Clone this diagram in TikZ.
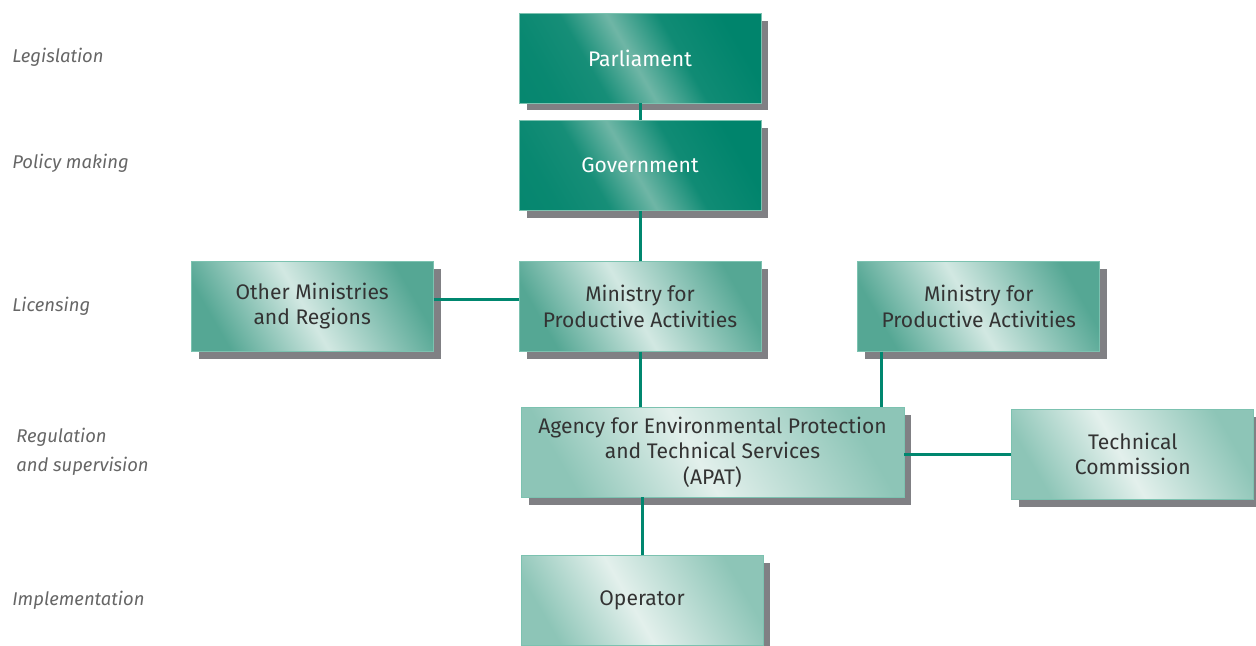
\documentclass[tikz,border=0pt]{standalone}
\usepackage{fontspec}
\setmainfont{Fira Sans}
\usetikzlibrary{positioning, shadows}

\definecolor{darkteal}{HTML}{00846C}
\definecolor{darklight}{HTML}{6FB6A6}
\definecolor{midteal}{HTML}{55A794}
\definecolor{midlight}{HTML}{D2E8E2}
\definecolor{paleteal}{HTML}{8DC5B7}
\definecolor{palelight}{HTML}{E3F0EC}
\definecolor{edgeteal}{HTML}{7CC2B0}
\definecolor{shadowgray}{HTML}{808084}
\definecolor{linkteal}{HTML}{00876F}
\definecolor{labelgray}{HTML}{666666}
\definecolor{boxtext}{HTML}{333333}

\pgfdeclarehorizontalshading{darkband}{100bp}{color(0bp)=(darkteal); color(25bp)=(darkteal!92!darklight); color(37bp)=(darkteal!80!darklight); color(48bp)=(darklight); color(60bp)=(darkteal!85!darklight); color(75bp)=(darkteal); color(100bp)=(darkteal)}
\pgfdeclarehorizontalshading{midband}{100bp}{color(0bp)=(midteal); color(25bp)=(midteal); color(48bp)=(midlight); color(75bp)=(midteal); color(100bp)=(midteal)}
\pgfdeclarehorizontalshading{paleband}{100bp}{color(0bp)=(paleteal); color(25bp)=(paleteal); color(47bp)=(palelight); color(75bp)=(paleteal); color(100bp)=(paleteal)}

\begin{document}
\begin{tikzpicture}[x=0.02cm, y=-0.02cm, node distance=1cm,
    box/.style={rectangle, draw=edgeteal, line width=0.5pt, minimum width=4.84cm, minimum height=1.8cm,
      align=center, inner sep=2pt, font=\fontsize{12}{14.5}\selectfont,
      general shadow={fill=shadowgray, shadow xshift=0.15cm, shadow yshift=-0.15cm}},
    darkbox/.style={box, shading=darkband, shading angle=30, text=white},
    midbox/.style={box, shading=midband, shading angle=30, text=boxtext},
    palebox/.style={box, shading=paleband, shading angle=30, text=boxtext},
    level/.style={anchor=west, align=left, inner sep=0pt, text=labelgray, font=\fontsize{10.5}{16.5}\selectfont\itshape},
    link/.style={draw=linkteal, line width=1.7pt}]
  \useasboundingbox (0,0) rectangle (1256,645);

  % Nodes
  \node (parliament) [darkbox] at (640,58) {Parliament};
  \node (government) [darkbox, below=0.33cm of parliament] {Government};
  \node (ministry) [midbox, below=1.0cm of government] {Ministry for\\Productive Activities};
  \node (others) [midbox, left=1.7cm of ministry] {Other Ministries\\and Regions};
  \node (ministryr) [midbox, right=1.92cm of ministry] {Ministry for\\Productive Activities};
  \node (apat) [palebox, minimum width=7.66cm, below=1.10cm of ministry.south west, anchor=north west, xshift=0.04cm]
    {Agency for Environmental Protection\\and Technical Services\\(APAT)};
  \node (commission) [palebox, right=2.14cm of apat, yshift=-0.04cm] {Technical\\Commission};
  \node (operator) [palebox, below=1.15cm of apat.south west, anchor=north west] {Operator};

  % Levels
  \node (legislation) [level] at (12,57) {Legislation};
  \node (policy) [level] at (12,163) {Policy making};
  \node (licensing) [level] at (12,306) {Licensing};
  \node (regulation) [level] at (16,452) {Regulation\\and supervision};
  \node (implementation) [level] at (12,600) {Implementation};

  % Lines
  \draw[link] (parliament) -- (government);
  \draw[link] (government) -- (ministry);
  \draw[link] ([yshift=0.14cm]others.east) -- ([yshift=0.14cm]ministry.west);
  \draw[link] (ministry.south) -- (ministry.south |- apat.north);
  \draw[link] ([xshift=0.48cm]ministryr.south west) -- ([xshift=0.48cm]ministryr.south west |- apat.north);
  \draw[link] (apat.east |- commission) -- (commission.west);
  \draw[link] (operator.north) -- (operator.north |- apat.south);
\end{tikzpicture}
\end{document}
